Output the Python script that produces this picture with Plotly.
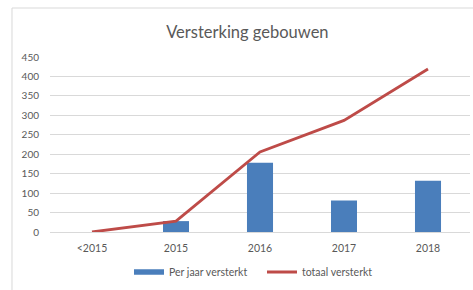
import plotly.graph_objects as go

categories = ["<2015", "2015", "2016", "2017", "2018"]
per_jaar = [None, 28, 178, 81, 132]
totaal = [0, 28, 206, 287, 419]
y_ticks = [0, 50, 100, 150, 200, 250, 300, 350, 400, 450]

BLUE = "#4A7EBB"
RED = "#BE4B48"

fig = go.Figure()
fig.add_trace(go.Bar(x=categories, y=per_jaar, name="Per jaar versterkt", showlegend=False,
                     marker=dict(color=BLUE, line=dict(width=0)), width=0.31))
# legend proxy for the bar series (wide flat swatch like the original)
fig.add_trace(go.Scatter(x=[None], y=[None], name="Per jaar versterkt", mode="lines",
                         line=dict(color=BLUE, width=5.5)))
fig.add_trace(go.Scatter(x=categories, y=totaal, name="totaal versterkt", mode="lines",
                         line=dict(color=RED, width=2.8)))

fig.update_layout(
    width=473, height=290,
    margin=dict(l=50, r=3, t=57, b=58, autoexpand=False),
    paper_bgcolor="white", plot_bgcolor="white",
    font=dict(family="Lato, Open Sans, sans-serif", color="#595959", size=10),
    title=dict(text="Versterking gebouwen", x=0.523, xanchor="center", y=0.89, yanchor="middle",
               yref="container", font=dict(size=16.5, color="#595959")),
    showlegend=True,
    legend=dict(orientation="h", x=129 / 473, xanchor="left", xref="container",
                y=0.062, yanchor="middle", yref="container",
                font=dict(size=10.5, color="#595959"), traceorder="normal",
                itemwidth=30, entrywidth=88),
    bargap=0.69,
)
fig.update_yaxes(range=[0, 450], tickvals=y_ticks, showgrid=True, gridcolor="#D9D9D9", gridwidth=1,
                 zeroline=False, showline=False, ticks="", ticklabelstandoff=10, automargin=False)
fig.update_xaxes(showgrid=False, showline=True, linecolor="#D9D9D9", linewidth=1, ticks="",
                 ticklabelstandoff=6, automargin=False, tickfont=dict(size=10.5))
# chart frame: top and left edges (others fall outside the crop)
fig.add_shape(type="line", xref="paper", yref="paper", x0=-0.0905, x1=1.01, y0=1.28, y1=1.28,
              line=dict(color="#D9D9D9", width=1))
fig.add_shape(type="line", xref="paper", yref="paper", x0=-0.0905, x1=-0.0905, y0=-0.4, y1=1.28,
              line=dict(color="#D9D9D9", width=1))
fig.write_html("out.html", config={"displayModeBar": False},
               post_script="document.body.style.margin='0';document.body.style.overflow='hidden';"
                           "document.documentElement.style.overflow='hidden';")
